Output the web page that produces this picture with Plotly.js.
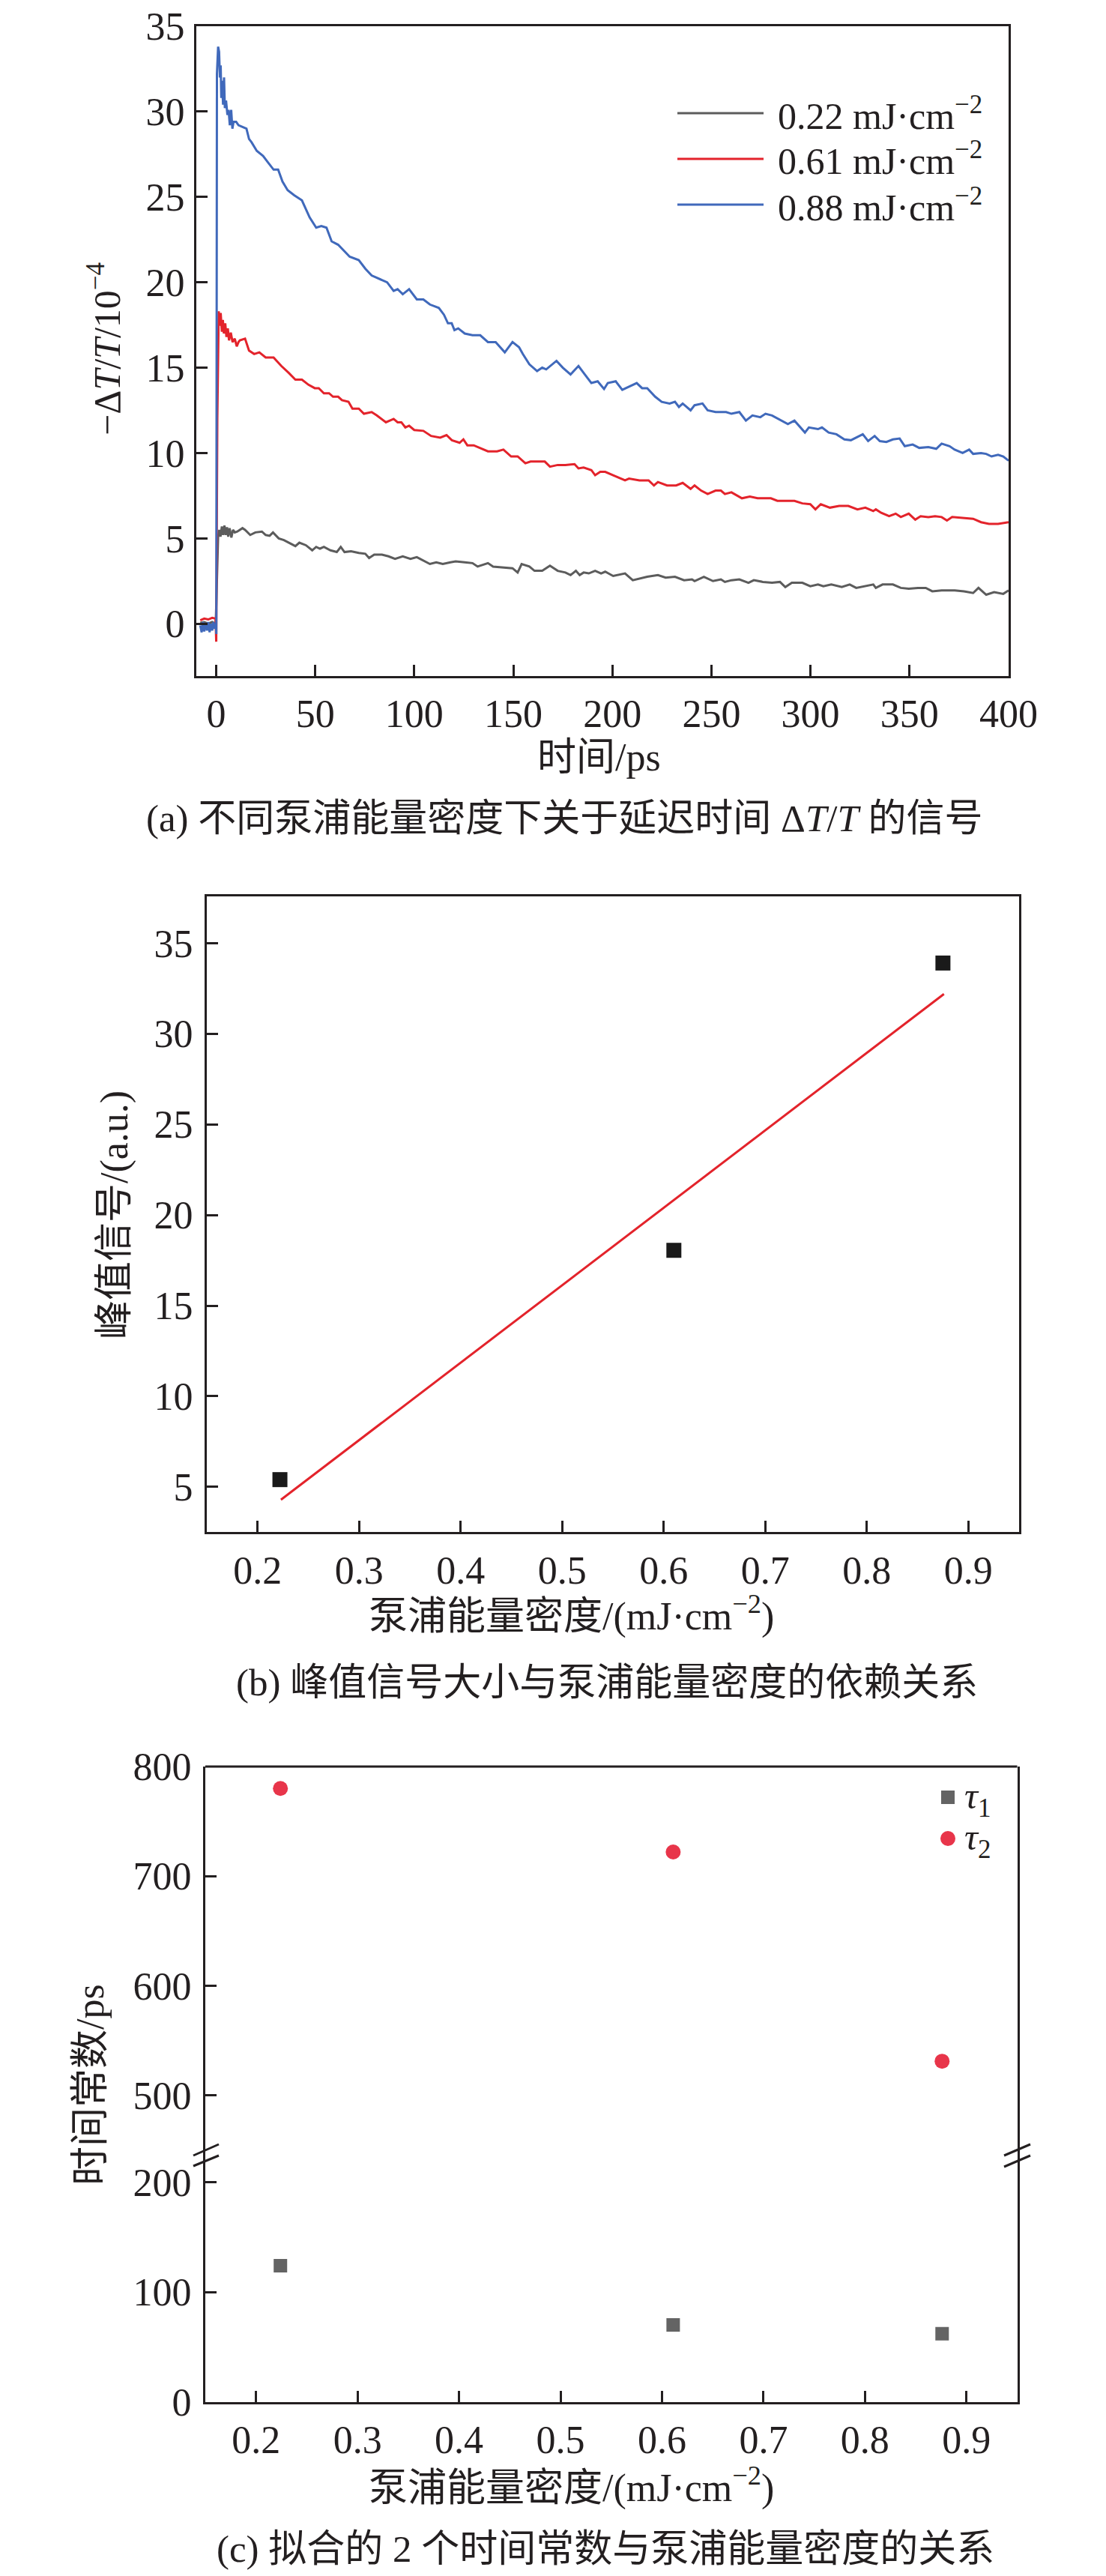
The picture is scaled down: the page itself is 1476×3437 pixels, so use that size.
<!DOCTYPE html>
<html>
<head>
<meta charset="utf-8">
<script src="https://cdn.plot.ly/plotly-3.0.1.min.js"></script>
<style>
  html, body { margin: 0; padding: 0; background: #fff; }
  #chart { width: 1476px; height: 3437px; }
</style>
</head>
<body>
<div id="chart"></div>
<script>
/////Data/////
// (a) -dT/T (1e-4) vs delay time (ps), one pair of arrays per pump fluence
const timeGray = [-8.0, -6.0, -4.0, -2.0, -0.2, 0.65, 1.0, 1.6, 2.2, 2.9, 3.5, 4.2, 4.8, 5.5, 6.1, 6.8, 7.7, 8.5, 9.4, 10.7,
  13.3, 14.6, 17.2, 19.8, 23.1, 25.0, 27.0, 28.7, 31.6, 34.2, 37.4, 40.0, 42.0, 45.3, 48.5, 50.5, 52.4, 54.4, 57.7, 60.9,
  62.9, 64.8, 68.1, 72.0, 75.3, 77.2, 79.8, 83.7, 87.0, 90.3, 94.2, 98.1, 101.3, 104.6, 107.9, 111.1, 114.4, 118.3, 120.9, 125.5,
  129.4, 132.0, 137.2, 139.8, 145.0, 149.6, 152.2, 154.2, 158.1, 160.7, 164.6, 168.5, 172.4, 176.3, 178.9, 181.6, 183.5, 185.5, 188.1, 191.3,
  194.3, 196.4, 200.4, 206.4, 210.3, 217.6, 223.0, 226.9, 231.6, 236.2, 240.2, 241.5, 246.2, 250.8, 254.8, 256.8, 260.1, 264.1, 268.7, 271.4,
  276.0, 280.6, 284.6, 287.3, 290.6, 295.9, 299.9, 303.8, 306.5, 310.5, 315.8, 319.8, 323.1, 327.7, 331.7, 333.0, 336.4, 341.6, 345.6, 349.6,
  354.2, 358.2, 361.5, 366.2, 372.8, 377.5, 382.1, 384.8, 388.7, 392.7, 397.3, 400];
const sigGray = [0.05, 0.1, 0.0, 0.1, 0.0, 3.05, 5.1, 5.5, 5.1, 5.7, 5.2, 5.75, 5.2, 5.65, 5.1, 5.6, 5.05, 5.5, 5.35, 5.4,
  5.6, 5.5, 5.2, 5.35, 5.4, 5.2, 5.15, 5.35, 5.0, 4.9, 4.7, 4.55, 4.75, 4.6, 4.3, 4.5, 4.4, 4.5, 4.3, 4.2,
  4.5, 4.2, 4.25, 4.15, 4.1, 3.85, 4.05, 4.05, 3.95, 3.8, 3.95, 3.8, 3.9, 3.7, 3.5, 3.6, 3.5, 3.6, 3.65, 3.6,
  3.55, 3.35, 3.55, 3.35, 3.3, 3.25, 3.0, 3.5, 3.35, 3.1, 3.1, 3.4, 3.1, 3.0, 2.85, 3.1, 2.85, 3.0, 2.95, 3.1,
  2.95, 3.05, 2.8, 2.95, 2.55, 2.75, 2.85, 2.7, 2.75, 2.55, 2.6, 2.5, 2.75, 2.5, 2.6, 2.45, 2.55, 2.6, 2.4, 2.55,
  2.45, 2.4, 2.45, 2.15, 2.4, 2.4, 2.2, 2.3, 2.2, 2.3, 2.15, 2.3, 2.1, 2.2, 2.3, 2.1, 2.3, 2.3, 2.1, 2.05,
  2.1, 2.1, 1.9, 1.95, 1.95, 1.9, 1.8, 2.1, 1.7, 1.85, 1.75, 1.95];

const timeRed = [-8.0, -6.0, -4.0, -2.0, -0.3, 0.05, 0.6, 1.3, 1.8, 2.3, 2.9, 3.4, 3.9, 4.6, 5.2, 5.9, 6.5, 7.4, 8.3, 9.4,
  10.4, 11.3, 12.0, 14.6, 16.6, 19.2, 21.8, 25.0, 29.0, 32.9, 36.6, 40.0, 43.3, 46.6, 49.8, 51.8, 54.4, 57.0, 59.0, 61.6,
  63.5, 66.8, 68.8, 72.0, 74.6, 78.5, 81.1, 85.7, 89.6, 91.6, 93.5, 95.5, 97.4, 100.0, 104.6, 108.5, 113.1, 116.3, 119.0, 122.9,
  124.8, 126.8, 130.0, 133.3, 137.2, 141.8, 145.0, 148.9, 152.2, 156.1, 158.7, 162.0, 165.9, 168.5, 172.4, 176.3, 180.9, 182.9, 185.5, 189.4,
  191.3, 193.9, 196.4, 200.4, 206.4, 208.4, 213.7, 218.3, 221.0, 223.0, 227.6, 232.2, 235.5, 239.5, 241.5, 244.8, 248.1, 252.1, 254.8, 256.8,
  260.1, 265.4, 269.4, 273.3, 280.0, 283.3, 286.6, 291.9, 295.9, 299.9, 302.5, 305.2, 309.8, 314.5, 319.1, 323.7, 327.7, 331.7, 333.0, 335.7,
  339.7, 343.0, 345.6, 349.6, 352.9, 355.6, 359.5, 362.9, 366.2, 368.9, 371.5, 376.8, 382.1, 386.1, 390.1, 394.7, 397.3, 400];
const sigRed = [0.2, 0.3, 0.25, 0.35, 0.3, -1.05, 12.0, 18.3, 17.45, 18.2, 17.1, 17.8, 17.0, 17.6, 16.8, 17.3, 16.6, 17.05, 16.5, 16.7,
  16.25, 16.5, 16.6, 16.7, 16.0, 15.8, 15.9, 15.6, 15.6, 15.1, 14.7, 14.3, 14.3, 14.0, 13.8, 13.8, 13.5, 13.5, 13.3, 13.3,
  13.1, 13.0, 12.6, 12.6, 12.3, 12.4, 12.2, 11.8, 12.0, 11.8, 11.8, 11.5, 11.6, 11.35, 11.3, 11.0, 10.9, 11.05, 10.75, 10.6,
  10.8, 10.45, 10.45, 10.3, 10.1, 10.1, 10.2, 9.8, 9.8, 9.4, 9.5, 9.5, 9.5, 9.2, 9.3, 9.3, 9.35, 9.1, 9.15, 9.0,
  8.7, 8.9, 8.9, 8.7, 8.4, 8.5, 8.4, 8.4, 8.1, 8.3, 8.1, 8.1, 8.25, 7.9, 8.1, 7.8, 7.6, 7.8, 7.8, 7.6,
  7.7, 7.35, 7.45, 7.35, 7.35, 7.2, 7.2, 7.2, 7.05, 7.0, 6.7, 7.0, 6.8, 6.9, 6.9, 6.7, 6.8, 6.6, 6.7, 6.5,
  6.3, 6.45, 6.25, 6.45, 6.1, 6.3, 6.25, 6.3, 6.25, 6.05, 6.25, 6.2, 6.15, 5.95, 5.85, 5.85, 5.9, 5.95];

const timeBlue = [-8.0, -7.3, -6.6, -6.0, -5.3, -4.6, -4.0, -3.3, -2.6, -2.0, -1.3, -0.7, -0.2, 0.1, 0.4, 1.0, 1.5, 1.9, 2.3, 2.6,
  3.0, 3.5, 4.0, 4.4, 5.0, 5.7, 6.3, 6.9, 7.6, 8.2, 8.8, 10.1, 11.3, 13.3, 15.3, 16.6, 17.9, 20.5, 23.7, 26.3,
  29.0, 31.3, 33.5, 36.1, 39.4, 43.3, 47.2, 50.5, 53.1, 55.7, 58.3, 61.6, 64.2, 67.4, 72.0, 75.3, 78.5, 82.4, 86.3, 89.6,
  91.6, 94.2, 97.4, 101.3, 104.6, 107.9, 112.4, 115.0, 117.0, 118.9, 120.3, 122.2, 125.5, 129.4, 133.3, 137.2, 141.1, 145.7, 149.6, 152.9,
  154.8, 158.1, 162.0, 164.6, 166.6, 171.8, 175.0, 178.9, 182.9, 186.1, 189.4, 192.6, 195.8, 197.7, 201.7, 205.0, 208.4, 212.3, 215.0, 217.6,
  221.6, 224.9, 228.9, 231.6, 233.6, 235.5, 239.5, 241.5, 245.5, 248.1, 252.1, 257.4, 260.1, 264.1, 267.4, 270.7, 274.7, 277.3, 280.6, 285.3,
  288.6, 291.9, 297.2, 299.2, 303.8, 305.8, 309.2, 313.1, 317.1, 320.4, 324.4, 326.4, 329.1, 332.4, 335.0, 338.3, 341.6, 345.0, 347.6, 351.6,
  354.9, 359.5, 363.5, 366.2, 370.2, 372.8, 376.8, 380.1, 382.1, 386.1, 388.7, 391.4, 394.7, 397.3, 400];
const sigBlue = [-0.1, -0.5, 0.1, -0.45, 0.05, -0.4, 0.1, -0.5, 0.0, -0.4, 0.1, -0.3, 0.0, -0.6, 32.2, 33.8, 33.5, 32.0, 32.7, 30.8,
  31.8, 30.4, 32.0, 30.2, 30.65, 29.8, 30.1, 29.2, 30.1, 29.0, 29.4, 29.4, 29.2, 29.1, 29.0, 28.4, 28.2, 27.7, 27.4, 27.0,
  26.6, 26.6, 25.9, 25.4, 25.1, 24.8, 23.8, 23.2, 23.3, 23.2, 22.4, 22.2, 21.9, 21.5, 21.3, 20.8, 20.4, 20.2, 20.0, 19.5,
  19.6, 19.3, 19.6, 19.0, 19.0, 18.7, 18.5, 18.1, 17.6, 17.6, 17.2, 17.3, 17.0, 16.9, 16.9, 16.5, 16.5, 15.9, 16.5, 16.2,
  15.8, 15.2, 14.8, 15.0, 14.9, 15.4, 15.0, 14.6, 15.1, 14.6, 14.1, 14.2, 13.75, 14.1, 14.2, 13.7, 13.9, 14.1, 13.8, 13.8,
  13.3, 13.0, 12.9, 13.0, 12.7, 12.9, 12.5, 12.8, 12.9, 12.5, 12.4, 12.4, 12.3, 12.4, 11.9, 12.2, 12.1, 12.3, 12.2, 11.9,
  11.7, 11.9, 11.2, 11.5, 11.4, 11.5, 11.2, 11.1, 10.8, 10.75, 11.0, 11.1, 10.7, 11.0, 10.7, 10.65, 10.8, 10.85, 10.4, 10.5,
  10.3, 10.35, 10.25, 10.55, 10.4, 10.2, 10.0, 10.2, 9.95, 10.0, 9.95, 9.8, 9.9, 9.8, 9.55];

const legendA = ['0.22 mJ·cm<sup>−2</sup>', '0.61 mJ·cm<sup>−2</sup>', '0.88 mJ·cm<sup>−2</sup>'];

// (b) peak signal vs pump fluence, with its linear fit
const fluenceB = [0.222, 0.610, 0.875];
const peakSignal = [5.4, 18.05, 33.9];
const fitX = [0.223, 0.876];
const fitY = [4.29, 32.19];

// (c) fitted time constants vs pump fluence
const fluenceC = [0.224, 0.611, 0.876];
const tau1 = [124, 70, 62];
const tau2 = [780, 722, 531];
const legendC = ['<i>τ</i><sub>1</sub>', '<i>τ</i><sub>2</sub>'];

// tick values
const ticksAx = [0, 50, 100, 150, 200, 250, 300, 350, 400];
const ticksAy = [0, 5, 10, 15, 20, 25, 30, 35];
const ticksFluence = [0.2, 0.3, 0.4, 0.5, 0.6, 0.7, 0.8, 0.9];
const ticksBy = [5, 10, 15, 20, 25, 30, 35];
const ticksClow = [0, 100, 200];
const ticksChigh = [500, 600, 700, 800];

/////Styles and helpers/////
const W = 1476, H = 3437;
const INK = '#231f20';
const GRAY = '#5c5c5c';
const RED = '#e3232b';
const BLUE = '#4069bb';
const DOT_RED = '#e8354a';
const FONT = '"Liberation Serif", "Times New Roman", "Noto Sans CJK SC", serif';

// page pixel -> paper fraction
const px = (x) => x / W;
const py = (y) => 1 - y / H;

function frameAxis(extra) {
  return Object.assign({
    showline: true, linecolor: INK, linewidth: 3, mirror: true,
    ticks: 'inside', ticklen: 15, tickwidth: 3, tickcolor: INK,
    showgrid: false, zeroline: false, fixedrange: true,
    tickfont: {family: FONT, size: 52, color: INK},
    tickmode: 'array'
  }, extra);
}
const xStand = 3, yStand = 2;

function note(text, x, y, size, extra) {
  return Object.assign({
    text: text, xref: 'paper', yref: 'paper', x: px(x), y: py(y),
    xanchor: 'center', yanchor: 'middle', showarrow: false,
    font: {family: FONT, size: size, color: INK}
  }, extra);
}

function paperLine(x0, y0, x1, y1, color) {
  return {
    type: 'line', xref: 'paper', yref: 'paper',
    x0: px(x0), y0: py(y0), x1: px(x1), y1: py(y1),
    line: {color: color, width: 3}
  };
}

/////Traces/////
const traces = [
  {x: timeGray, y: sigGray, xaxis: 'x', yaxis: 'y', mode: 'lines', name: '0.22 mJ·cm−2',
   line: {color: GRAY, width: 3}, showlegend: false},
  {x: timeRed, y: sigRed, xaxis: 'x', yaxis: 'y', mode: 'lines', name: '0.61 mJ·cm−2',
   line: {color: RED, width: 3}, showlegend: false},
  {x: timeBlue, y: sigBlue, xaxis: 'x', yaxis: 'y', mode: 'lines', name: '0.88 mJ·cm−2',
   line: {color: BLUE, width: 3}, showlegend: false},
  {x: fitX, y: fitY, xaxis: 'x2', yaxis: 'y2', mode: 'lines', name: 'fit',
   line: {color: RED, width: 3}, showlegend: false},
  {x: fluenceB, y: peakSignal, xaxis: 'x2', yaxis: 'y2', mode: 'markers', name: 'peak',
   marker: {symbol: 'square', size: 20, color: '#1a1a1a'}, showlegend: false},
  {x: fluenceC, y: tau1, xaxis: 'x3', yaxis: 'y3', mode: 'markers', name: 'τ1',
   marker: {symbol: 'square', size: 18, color: '#646464'}, showlegend: false},
  {x: fluenceC, y: tau2, xaxis: 'x3', yaxis: 'y4', mode: 'markers', name: 'τ2',
   marker: {symbol: 'circle', size: 20, color: DOT_RED}, showlegend: false}
];

/////Layout/////
const layout = {
  width: W, height: H,
  margin: {l: 0, r: 0, t: 0, b: 0},
  paper_bgcolor: '#fff', plot_bgcolor: '#fff',
  showlegend: false,
  // panel (a)
  xaxis: frameAxis({domain: [px(262), px(1346)], range: [-10, 400], anchor: 'y',
                    tickvals: ticksAx, ticklabelstandoff: xStand}),
  yaxis: frameAxis({domain: [py(901.7), py(35)], range: [-3.05, 35], anchor: 'x',
                    tickvals: ticksAy, ticklabelstandoff: yStand}),
  // panel (b)
  xaxis2: frameAxis({domain: [px(276), px(1360)], range: [0.15, 0.95], anchor: 'y2',
                     tickvals: ticksFluence, tickformat: '.1f', ticklabelstandoff: xStand}),
  yaxis2: frameAxis({domain: [py(2044.3), py(1196.4)], range: [2.5, 37.56], anchor: 'x2',
                     tickvals: ticksBy, ticklabelstandoff: yStand + 3}),
  // panel (c), broken y axis
  xaxis3: frameAxis({domain: [px(274), px(1357.5)], range: [0.15, 0.95], anchor: 'y3',
                     tickvals: ticksFluence, tickformat: '.1f', mirror: false,
                     ticklabelstandoff: xStand}),
  yaxis3: frameAxis({domain: [py(3204.5), py(2876)], range: [0, 224.4], anchor: 'x3',
                     tickvals: ticksClow, ticklabelstandoff: yStand + 3}),
  yaxis4: frameAxis({domain: [py(2876), py(2357)], range: [444.9, 800], anchor: 'x3',
                     tickvals: ticksChigh, ticklabelstandoff: yStand + 3}),
  shapes: [],
  annotations: []
};

// legend of (a)
const legendColors = [GRAY, RED, BLUE];
const legendRows = [151, 212, 273];
legendA.forEach((label, i) => {
  layout.shapes.push(paperLine(904, legendRows[i], 1019, legendRows[i], legendColors[i]));
  layout.annotations.push(note(label, 1036, legendRows[i], 50, {xanchor: 'left'}));
});

// legend of (c)
layout.shapes.push({type: 'rect', xref: 'paper', yref: 'paper',
  x0: px(1256), x1: px(1274), y0: py(2407), y1: py(2389),
  fillcolor: '#646464', line: {width: 0}});
layout.shapes.push({type: 'circle', xref: 'paper', yref: 'paper',
  x0: px(1255), x1: px(1275), y0: py(2463), y1: py(2443),
  fillcolor: DOT_RED, line: {width: 0}});
layout.annotations.push(note(legendC[0], 1285, 2400, 50, {xanchor: 'left'}));
layout.annotations.push(note(legendC[1], 1285, 2455, 50, {xanchor: 'left'}));

// top frame of (c) and the axis break marks
layout.shapes.push(paperLine(274, 2357, 1357.5, 2357, INK));
layout.shapes.push(paperLine(258, 2876, 292, 2861, INK));
layout.shapes.push(paperLine(258, 2890, 292, 2876, INK));
layout.shapes.push(paperLine(1340, 2876, 1375, 2861, INK));
layout.shapes.push(paperLine(1340, 2891, 1375, 2876, INK));

// axis titles and captions
layout.annotations.push(
  note('−Δ<i>T</i>/<i>T</i>/10<sup>−4</sup>', 140, 466, 50, {textangle: -90}),
  note('时间/ps', 800, 1010, 52),
  note('(a) 不同泵浦能量密度下关于延迟时间 Δ<i>T</i>/<i>T</i> 的信号', 753, 1092, 51),
  note('峰值信号/(a.u.)', 153, 1621, 52, {textangle: -90}),
  note('泵浦能量密度/(mJ·cm<sup>−2</sup>)', 763, 2153, 52),
  note('(b) 峰值信号大小与泵浦能量密度的依赖关系', 810, 2245, 51),
  note('时间常数/ps', 120, 2782, 52, {textangle: -90}),
  note('泵浦能量密度/(mJ·cm<sup>−2</sup>)', 763, 3316, 52),
  note('(c) 拟合的 2 个时间常数与泵浦能量密度的关系', 808, 3401, 51)
);

Plotly.newPlot('chart', traces, layout, {displayModeBar: false, staticPlot: true});
</script>
</body>
</html>
